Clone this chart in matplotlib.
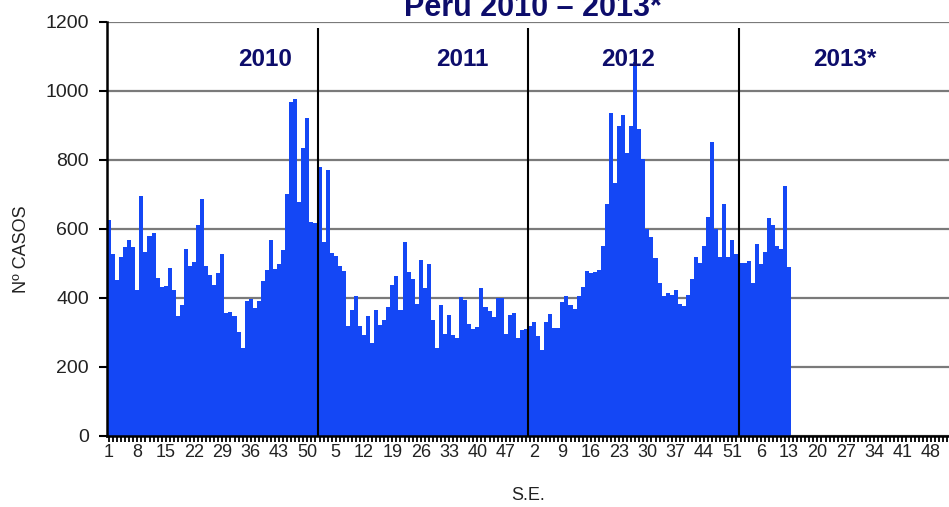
import matplotlib
matplotlib.use('Agg')
import matplotlib.pyplot as plt
import numpy as np

plt.rcParams['font.family'] = ['Liberation Sans', 'DejaVu Sans']

# casos por semana epidemiologica (S.E.)
casos_2010 = [625, 526, 451, 518, 547, 567, 547, 422, 693, 533, 579, 588, 457, 431, 434, 486,
              422, 347, 378, 541, 492, 504, 610, 686, 492, 465, 436, 471, 526, 355, 359, 345,
              301, 255, 390, 396, 371, 390, 449, 480, 566, 483, 498, 537, 700, 968, 974, 678,
              834, 919, 620, 615]
casos_2011 = [778, 562, 770, 528, 521, 490, 478, 318, 364, 403, 316, 291, 345, 269, 364, 320,
              335, 372, 435, 462, 364, 560, 475, 455, 381, 510, 428, 496, 335, 253, 377, 295,
              350, 290, 282, 402, 393, 322, 308, 314, 428, 372, 362, 344, 400, 400, 295, 350,
              354, 282, 306, 308]
casos_2012 = [318, 330, 289, 249, 330, 351, 311, 311, 388, 403, 378, 366, 405, 430, 478, 470,
              475, 480, 548, 672, 934, 731, 897, 929, 818, 897, 1084, 888, 801, 598, 575, 514,
              441, 405, 412, 407, 422, 381, 375, 407, 455, 518, 499, 548, 634, 852, 598, 518,
              671, 518, 567, 526]
casos_2013 = [500, 500, 505, 441, 554, 498, 532, 629, 610, 548, 540, 722, 488]  # hasta SE 13

anios = ['2010', '2011', '2012', '2013*']
semanas_anio = 52

casos = casos_2010 + casos_2011 + casos_2012 + casos_2013
semanas = [s for _ in anios for s in range(1, semanas_anio + 1)]
n = len(semanas)

azul = '#1447f5'
navy = '#0d0d6b'

fig = plt.figure(figsize=(9.49, 5.07), dpi=100)
ax = fig.add_axes([107/949, 71.5/507, 842/949, 414/507])

ax.bar(np.arange(len(casos)), casos, width=1.0, color=azul, linewidth=0, zorder=2)

ax.set_xlim(-0.5, n - 0.5)
ax.set_ylim(0, 1200)
ax.set_yticks(range(0, 1201, 200))
ax.yaxis.grid(True, color='#7a7a7a', lw=1.6)
ax.set_axisbelow(True)

ax.set_xticks(np.arange(n))
ax.set_xticklabels([str(semanas[i]) if i % 7 == 0 else '' for i in range(n)])
ax.tick_params(axis='x', length=4, width=1.3, pad=2, labelsize=13, labelcolor='#222222')
ax.tick_params(axis='y', length=6, width=1.5, pad=7, labelsize=14, labelcolor='#222222')

for s in ['top', 'right']:
    ax.spines[s].set_visible(False)
ax.spines['left'].set_linewidth(1.8)
ax.spines['bottom'].set_linewidth(1.8)

# separadores de anio
cortes = [semanas_anio * k - 0.5 for k in range(1, len(anios))]
ax.vlines(cortes, 0, 1182, color='black', lw=1.5, zorder=3)

pos_etiquetas = [38.5, 87.2, 128.1, 181.7]
for xp, a in zip(pos_etiquetas, anios):
    ax.text(xp, 1089, a, ha='center', va='center', fontsize=17.5,
            fontweight='bold', color=navy, zorder=4)

fig.text(533/949, 1 - 16.5/507, 'Perú 2010 – 2013*', ha='center', va='baseline',
         fontsize=22, fontweight='bold', color=navy)

ax.set_ylabel('Nº CASOS', fontsize=13, color='#222222')
ax.yaxis.set_label_coords(-0.091, 0.45)
ax.set_xlabel('S.E.', fontsize=13, color='#222222')
ax.xaxis.set_label_coords(0.5, -0.125)

fig.savefig('out.png', dpi=100)
